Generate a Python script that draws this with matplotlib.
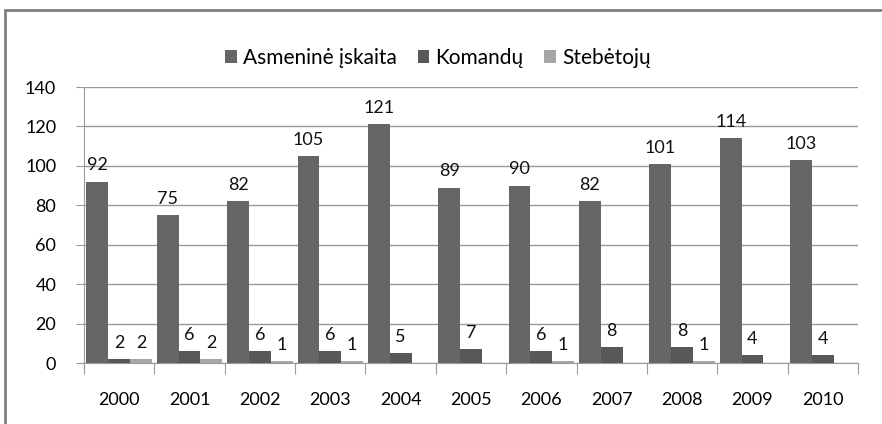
import matplotlib.pyplot as plt
import numpy as np

years = ['2000', '2001', '2002', '2003', '2004', '2005', '2006', '2007', '2008', '2009', '2010']
asmenine = [92, 75, 82, 105, 121, 89, 90, 82, 101, 114, 103]
komandu = [2, 6, 6, 6, 5, 7, 6, 8, 8, 4, 4]
stebetoju = [2, 2, 1, 1, None, None, 1, None, 1, None, None]

series_names = ['Asmeninė įskaita', 'Komandų', 'Stebėtojų']
colors = ['#666666', '#585858', '#a6a6a6']

plt.rcParams['font.family'] = ['Lato', 'DejaVu Sans']

fig = plt.figure(figsize=(8.82, 4.24), dpi=100)
ax = fig.add_axes([84 / 882, 1 - 363 / 424, (858 - 84) / 882, (363 - 87) / 424])

# outer frame (only top and left visible in the crop)
fig.add_artist(plt.Rectangle((5 / 882, -0.05), 1.1, 1 - 10 / 424 + 0.05,
                             transform=fig.transFigure, fill=False,
                             edgecolor='#808080', linewidth=2))

x = np.arange(len(years))
width = 0.31
offsets = [-width, 0, width]

for data, name, color, off in zip([asmenine, komandu, stebetoju], series_names, colors, offsets):
    vals = [v if v is not None else 0 for v in data]
    bars = ax.bar(x + off, vals, width, color=color, label=name, zorder=3)
    for b, v in zip(bars, data):
        if v is None:
            continue
        ax.annotate(str(v), (b.get_x() + b.get_width() / 2, v),
                    xytext=(0, 6), textcoords='offset points',
                    ha='center', va='bottom', fontsize=13, color='#111111')

ax.set_xlim(-0.5, len(years) - 0.5)
ax.set_ylim(0, 140)
ax.set_yticks(range(0, 141, 20))
ax.yaxis.grid(True, color='#999999', linewidth=1, zorder=0)
ax.tick_params(axis='y', length=6, color='#999999', labelsize=13, pad=14)

# ticks between categories, labels at the centres
ax.set_xticks(np.arange(-0.5, len(years), 1))
ax.set_xticklabels([])
ax.tick_params(axis='x', which='major', length=8, color='#999999')
ax.set_xticks(x, minor=True)
ax.set_xticklabels(years, minor=True)
ax.tick_params(axis='x', which='minor', length=0, labelsize=13, pad=21)

for side in ['top', 'right']:
    ax.spines[side].set_visible(False)
ax.spines['left'].set_color('#999999')
ax.spines['bottom'].set_color('#999999')

fig.legend(loc='center', bbox_to_anchor=(438 / 882, 1 - 58 / 424), ncol=3,
           frameon=False, fontsize=15, handlelength=0.55, handleheight=0.55,
           handletextpad=0.3, columnspacing=1.0)

fig.savefig('out.png', dpi=100)
